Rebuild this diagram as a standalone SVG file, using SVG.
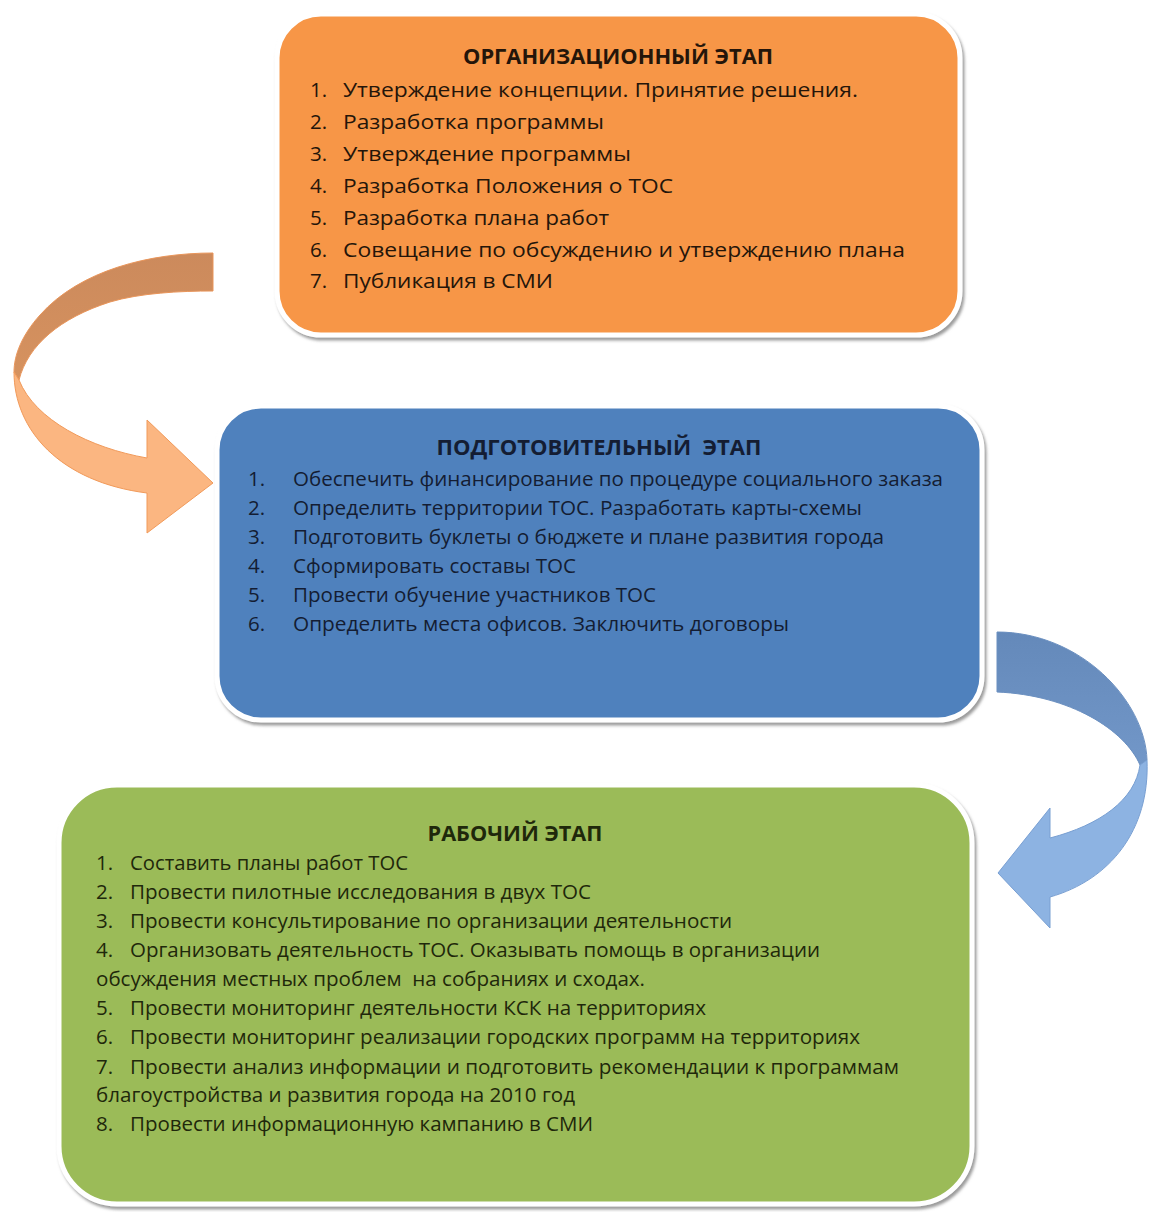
<svg xmlns="http://www.w3.org/2000/svg" width="1150" height="1212" viewBox="0 0 1150 1212">
<defs>
<filter id="sh" x="-5%" y="-5%" width="110%" height="115%">
<feDropShadow dx="2" dy="3" stdDeviation="1.6" flood-color="#7a7a7a" flood-opacity="0.75"/>
</filter>
<linearGradient id="gOrTop" x1="0" y1="0" x2="0" y2="1">
<stop offset="0" stop-color="#cc8a5c"/>
<stop offset="1" stop-color="#d6925f"/>
</linearGradient>
<linearGradient id="gBlTop" x1="0" y1="0" x2="0" y2="1">
<stop offset="0" stop-color="#6489ba"/>
<stop offset="1" stop-color="#7297c8"/>
</linearGradient>
</defs>
<style>
text{font-family:"Open Sans","Noto Sans","DejaVu Sans",sans-serif;font-size:20.5px;white-space:pre}
.t{font-weight:bold;text-anchor:middle}
.box{stroke:#ffffff;stroke-width:5;filter:url(#sh)}
.or text{fill:#24150a}
.bl text{fill:#141d33}
.gr text{fill:#1f280b}
</style>
<rect width="1150" height="1212" fill="#ffffff"/>

<g id="connectors">
<g id="arrow-org-prep">
<path d="M213,253 C150,253 80,270 40,315 C22,335 14,355 14,372 L19,380 C28,345 60,318 110,302 C140,293 180,291 213,291 Z" fill="url(#gOrTop)" stroke="#e9955a" stroke-width="1"/>
<path d="M14,372 C14,430 60,482 147,493 L147,533 L213,483 L147,420 L147,458 C90,448 35,420 19,380 Z" fill="#fbb681" stroke="#f19a5a" stroke-width="1"/>
</g>
<g id="arrow-prep-work">
<path d="M997,632 C1080,632 1145,700 1147,760 L1140,765 C1125,730 1070,695 997,692 Z" fill="url(#gBlTop)" stroke="#6a8fc0" stroke-width="1"/>
<path d="M1147,760 C1150,830 1110,880 1050,897 L1050,928 L998,873 L1050,808 L1050,838 C1100,825 1135,800 1140,765 Z" fill="#8db3e2" stroke="#789fd2" stroke-width="1"/>
</g>
</g>

<g id="node-org" class="or">
<rect class="box" x="277" y="14" width="683" height="321" rx="44" fill="#f79646"/>
<text class="t" x="618" y="64" textLength="310" lengthAdjust="spacingAndGlyphs">ОРГАНИЗАЦИОННЫЙ ЭТАП</text>
<text x="310" y="97">1.</text><text x="343" y="97" textLength="515" lengthAdjust="spacingAndGlyphs">Утверждение концепции. Принятие решения.</text>
<text x="310" y="129">2.</text><text x="343" y="129" textLength="261" lengthAdjust="spacingAndGlyphs">Разработка программы</text>
<text x="310" y="161">3.</text><text x="343" y="161" textLength="288" lengthAdjust="spacingAndGlyphs">Утверждение программы</text>
<text x="310" y="193">4.</text><text x="343" y="193" textLength="330" lengthAdjust="spacingAndGlyphs">Разработка Положения о ТОС</text>
<text x="310" y="225">5.</text><text x="343" y="225" textLength="266" lengthAdjust="spacingAndGlyphs">Разработка плана работ</text>
<text x="310" y="257">6.</text><text x="343" y="257" textLength="562" lengthAdjust="spacingAndGlyphs">Совещание по обсуждению и утверждению плана</text>
<text x="310" y="288">7.</text><text x="343" y="288" textLength="210" lengthAdjust="spacingAndGlyphs">Публикация в СМИ</text>
</g>

<g id="node-prep" class="bl">
<rect class="box" x="217" y="406" width="765" height="314" rx="44" fill="#4f81bd"/>
<text class="t" x="599" y="455" textLength="325" lengthAdjust="spacingAndGlyphs">ПОДГОТОВИТЕЛЬНЫЙ  ЭТАП</text>
<text x="248" y="486">1.</text><text x="293" y="486" textLength="650" lengthAdjust="spacingAndGlyphs">Обеспечить финансирование по процедуре социального заказа</text>
<text x="248" y="515">2.</text><text x="293" y="515" textLength="569" lengthAdjust="spacingAndGlyphs">Определить территории ТОС. Разработать карты-схемы</text>
<text x="248" y="544">3.</text><text x="293" y="544" textLength="591" lengthAdjust="spacingAndGlyphs">Подготовить буклеты о бюджете и плане развития города</text>
<text x="248" y="573">4.</text><text x="293" y="573" textLength="283" lengthAdjust="spacingAndGlyphs">Сформировать составы ТОС</text>
<text x="248" y="602">5.</text><text x="293" y="602" textLength="363" lengthAdjust="spacingAndGlyphs">Провести обучение участников ТОС</text>
<text x="248" y="631">6.</text><text x="293" y="631" textLength="496" lengthAdjust="spacingAndGlyphs">Определить места офисов. Заключить договоры</text>
</g>

<g id="node-work" class="gr">
<rect class="box" x="59" y="785" width="913" height="419" rx="58" fill="#9bbb59"/>
<text class="t" x="515" y="841" textLength="175" lengthAdjust="spacingAndGlyphs">РАБОЧИЙ ЭТАП</text>
<text x="96" y="870">1.</text><text x="130" y="870" textLength="278" lengthAdjust="spacingAndGlyphs">Составить планы работ ТОС</text>
<text x="96" y="899">2.</text><text x="130" y="899" textLength="461" lengthAdjust="spacingAndGlyphs">Провести пилотные исследования в двух ТОС</text>
<text x="96" y="928">3.</text><text x="130" y="928" textLength="602" lengthAdjust="spacingAndGlyphs">Провести консультирование по организации деятельности</text>
<text x="96" y="957">4.</text><text x="130" y="957" textLength="690" lengthAdjust="spacingAndGlyphs">Организовать деятельность ТОС. Оказывать помощь в организации</text>
<text x="96" y="986" textLength="549" lengthAdjust="spacingAndGlyphs">обсуждения местных проблем  на собраниях и сходах.</text>
<text x="96" y="1015">5.</text><text x="130" y="1015" textLength="576" lengthAdjust="spacingAndGlyphs">Провести мониторинг деятельности КСК на территориях</text>
<text x="96" y="1044">6.</text><text x="130" y="1044" textLength="730" lengthAdjust="spacingAndGlyphs">Провести мониторинг реализации городских программ на территориях</text>
<text x="96" y="1074">7.</text><text x="130" y="1074" textLength="769" lengthAdjust="spacingAndGlyphs">Провести анализ информации и подготовить рекомендации к программам</text>
<text x="96" y="1102" textLength="479" lengthAdjust="spacingAndGlyphs">благоустройства и развития города на 2010 год</text>
<text x="96" y="1131">8.</text><text x="130" y="1131" textLength="463" lengthAdjust="spacingAndGlyphs">Провести информационную кампанию в СМИ</text>
</g>
</svg>
